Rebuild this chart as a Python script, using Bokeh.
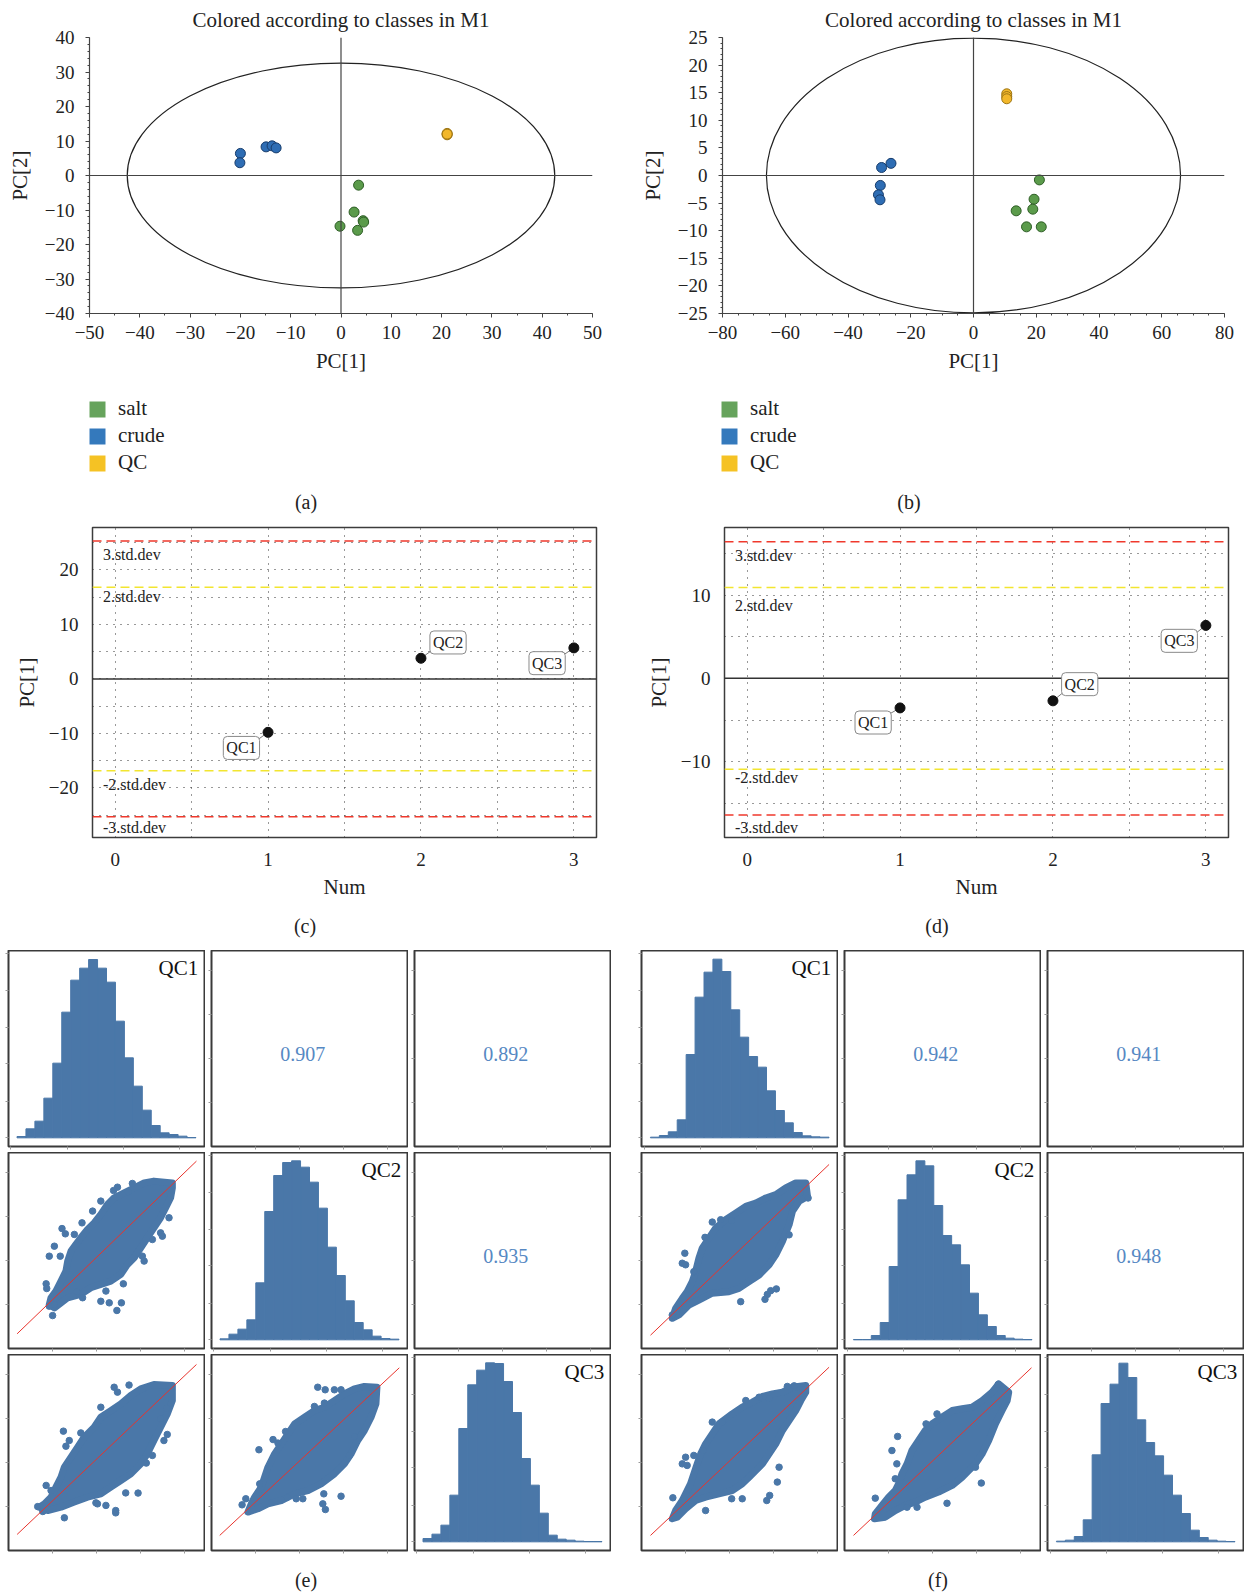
from bokeh.plotting import figure
from bokeh.layouts import column, row
from bokeh.models import (Range1d, Span, Label, Legend, LegendItem, FixedTicker,
                          SingleIntervalTicker, CustomJSTickFormatter, Div, Spacer)
from bokeh.embed import file_html
from bokeh.resources import INLINE

FONT = "Liberation Serif"
TXT = "#222222"

# ---------------- data: (a) / (b) PCA score plots ----------------
classes = ["salt", "crude", "QC"]
legend_colors = ["#66a35c", "#3479bc", "#f5c224"]
point_fill = ["#5b9b4b", "#2e6db4", "#f2b72a"]
point_line = ["#2e5e26", "#173c6b", "#9c7412"]

a_salt_x = [3.5, 2.6, 4.4, 4.5, -0.2, 3.3]
a_salt_y = [-2.8, -10.6, -13.1, -13.5, -14.7, -15.9]
a_crude_x = [-20.0, -20.1, -14.9, -13.7, -12.9]
a_crude_y = [6.4, 3.7, 8.3, 8.6, 8.0]
a_qc_x = [21.1, 21.1, 21.1]
a_qc_y = [12.2, 11.8, 12.0]
a_ellipse = [42.5, 32.6]

b_salt_x = [21.0, 19.3, 13.6, 18.9, 16.9, 21.6]
b_salt_y = [-0.8, -4.3, -6.4, -6.1, -9.3, -9.3]
b_crude_x = [-29.3, -26.3, -29.7, -30.3, -29.8]
b_crude_y = [1.45, 2.2, -1.8, -3.5, -4.4]
b_qc_x = [10.6, 10.6, 10.6]
b_qc_y = [14.8, 14.3, 13.9]
b_ellipse = [66.0, 24.9]

# ---------------- data: (c) / (d) QC control charts ----------------
qc_num = [1, 2, 3]
qc_names = ["QC1", "QC2", "QC3"]
c_scores = [-9.8, 3.8, 5.7]
c_sd2, c_sd3 = 16.85, 25.3
d_scores = [-3.55, -2.7, 6.35]
d_sd2, d_sd3 = 10.9, 16.4
c_label_x = [0.826, 2.177, 2.825]
c_label_y = [-12.66, 6.7, 2.9]
c_leader_x = [0.93, 2.069, 2.935]
c_leader_y = [-11.2, 5.2, 4.46]
d_label_x = [0.824, 2.175, 2.826]
d_label_y = [-5.3, -0.7, 4.5]
d_leader_x = [0.938, 2.06, 2.94]
d_leader_y = [-4.2, -1.8, 5.5]
std_texts = ["3.std.dev", "2.std.dev", "-2.std.dev", "-3.std.dev"]
c_std_y = [22.8, 15.2, -19.45, -27.2]
d_std_y = [14.8, 8.8, -11.95, -17.95]

# ---------------- data: (e) / (f) correlation matrices ----------------
e_hist_qc1 = [4, 27, 50, 119, 224, 377, 473, 509, 535, 509, 467, 350, 240, 155, 83, 37, 15, 10, 5, 1]
e_hist_qc2 = [3, 17, 32, 60, 171, 385, 493, 532, 537, 518, 473, 395, 278, 193, 117, 52, 30, 11, 4, 2]
e_hist_qc3 = [10, 23, 50, 140, 340, 471, 515, 537, 535, 481, 388, 250, 170, 86, 20, 8, 5, 2, 1, 1]
f_hist_qc1 = [2, 7, 18, 54, 250, 422, 497, 536, 499, 384, 302, 244, 212, 141, 82, 45, 16, 6, 3, 2]
f_hist_qc2 = [1, 1, 13, 52, 220, 420, 495, 537, 522, 403, 313, 285, 225, 140, 75, 40, 13, 5, 2, 1]
f_hist_qc3 = [2, 5, 16, 66, 261, 415, 473, 536, 493, 366, 298, 258, 200, 140, 85, 35, 13, 5, 2, 1]
bin_edges = list(range(21))

e_corr = {"12": "0.907", "13": "0.892", "23": "0.935"}
f_corr = {"12": "0.942", "13": "0.941", "23": "0.948"}

e21_hull_x = [83.6, 74.2, 69.2, 64.1, 59.0, 53.9, 50.5, 47.1, 43.7, 40.3, 36.9, 34.4, 31.9, 30.2, 29.3, 26.8, 24.2, 21.7, 20.8, 23.4, 30.2, 36.9, 42.0, 47.1, 52.2, 57.3, 60.7, 64.1, 67.5, 70.8, 74.2, 77.6, 80.2, 82.7, 83.6]
e21_hull_y = [84.5, 85.4, 84.5, 82.0, 79.4, 76.9, 73.5, 68.4, 64.1, 60.7, 56.5, 53.1, 49.7, 44.6, 39.5, 34.4, 29.3, 25.9, 22.4, 20.7, 25.9, 27.6, 31.0, 32.7, 34.4, 37.8, 42.9, 46.3, 51.4, 56.5, 61.6, 66.7, 71.8, 76.9, 82.0]
e21_out_x = [63.2, 55.6, 53.6, 61.0, 47.1, 42.9, 37.5, 27.3, 29.0, 33.6, 23.4, 20.8, 26.4, 19.2, 19.5, 22.5, 20.8, 47.1, 51.4, 55.3, 57.6, 49.7, 58.6, 68.3, 69.2, 73.4, 77.6, 78.5, 81.9, 37.8, 34.9, 23.4]
e21_out_y = [84.2, 82.3, 80.6, 79.8, 75.2, 70.1, 64.1, 61.2, 58.5, 58.2, 52.2, 47.1, 47.1, 33.0, 30.6, 16.8, 21.6, 24.1, 23.3, 19.4, 23.3, 29.3, 33.0, 47.1, 44.6, 55.6, 59.0, 57.3, 66.7, 25.9, 28.9, 22.4]
e21_diag = ([4.4, 95.9], [7.5, 95.6])

e31_hull_x = [83.6, 74.2, 67.5, 62.4, 57.3, 52.2, 47.1, 43.7, 38.6, 35.3, 31.9, 28.5, 26.8, 24.2, 21.7, 18.3, 15.8, 20.0, 26.8, 33.6, 40.3, 47.1, 52.2, 57.3, 62.4, 67.5, 70.8, 74.2, 77.6, 81.0, 83.6]
e31_hull_y = [84.2, 84.7, 82.5, 79.1, 74.8, 71.4, 68.0, 62.9, 57.8, 52.7, 47.6, 42.5, 37.4, 32.3, 27.2, 23.8, 22.1, 20.4, 22.1, 24.7, 27.2, 28.9, 32.3, 35.7, 39.1, 44.2, 49.3, 56.1, 62.9, 69.7, 76.5]
e31_out_x = [53.9, 61.5, 55.6, 47.1, 28.0, 36.9, 31.0, 29.3, 19.2, 21.7, 14.9, 17.5, 28.5, 44.6, 45.4, 49.7, 54.7, 54.7, 59.8, 66.1, 70.3, 73.4, 79.3, 81.0, 77.6, 80.7]
e31_out_y = [83.3, 84.4, 80.8, 73.1, 60.9, 60.0, 56.1, 53.2, 33.2, 30.6, 22.4, 19.9, 16.7, 24.3, 23.8, 23.0, 20.4, 19.2, 29.4, 29.3, 44.6, 48.5, 56.1, 59.2, 67.2, 72.6]
e31_diag = ([4.4, 95.9], [8.2, 94.9])

e32_hull_x = [84.4, 78.0, 72.9, 67.8, 62.7, 57.6, 52.5, 47.5, 42.4, 39.0, 35.6, 32.2, 28.8, 27.1, 25.4, 22.0, 20.3, 18.6, 23.7, 28.8, 35.6, 42.4, 49.2, 55.9, 62.7, 67.8, 71.2, 74.6, 78.0, 81.4, 83.9]
e32_hull_y = [83.3, 83.7, 82.5, 79.9, 76.5, 73.1, 71.4, 68.0, 64.6, 59.5, 54.4, 49.3, 42.5, 37.4, 32.3, 27.2, 23.8, 19.6, 21.3, 23.8, 25.5, 28.9, 30.6, 34.0, 39.1, 44.2, 49.3, 56.1, 61.2, 68.0, 74.8]
e32_out_x = [54.2, 58.0, 62.7, 66.1, 52.5, 57.6, 37.8, 31.4, 33.9, 24.2, 24.6, 15.6, 17.5, 38.6, 43.2, 46.6, 57.3, 56.8, 58.1, 66.1, 70.3, 72.9]
e32_out_y = [83.3, 82.0, 82.0, 82.0, 73.5, 75.2, 60.7, 56.6, 54.8, 51.4, 34.0, 23.3, 26.4, 27.2, 26.4, 26.4, 28.9, 23.8, 20.9, 27.7, 48.5, 58.2]
e32_diag = ([4.2, 95.8], [7.7, 93.2])

f21_hull_x = [83.8, 78.7, 73.6, 68.5, 63.4, 58.3, 53.2, 48.0, 42.9, 37.8, 34.4, 31.0, 29.3, 27.6, 25.9, 23.3, 20.8, 17.4, 15.7, 19.1, 24.2, 29.3, 36.1, 44.6, 49.7, 54.9, 60.0, 65.1, 68.5, 71.9, 75.3, 77.0, 80.4, 84.7]
f21_hull_y = [84.5, 84.5, 81.9, 78.5, 76.8, 74.2, 72.5, 69.1, 65.7, 61.4, 56.3, 51.2, 46.1, 39.2, 34.1, 29.0, 25.6, 20.5, 15.4, 17.1, 22.2, 24.7, 28.2, 29.0, 30.7, 34.1, 37.5, 42.7, 47.8, 54.6, 63.1, 70.0, 75.1, 77.6]
f21_out_x = [36.1, 40.4, 46.0, 32.4, 22.1, 20.8, 22.5, 26.7, 50.6, 64.2, 65.9, 68.8, 63.0, 75.3, 85.0, 15.7, 18.2]
f21_out_y = [64.5, 65.7, 65.2, 56.7, 48.6, 43.5, 42.7, 39.2, 23.9, 27.6, 29.5, 30.4, 25.1, 58.0, 76.8, 17.1, 18.8]
f21_diag = ([4.6, 95.7], [6.8, 93.9])

f31_hull_x = [83.8, 77.0, 71.9, 66.8, 61.7, 56.6, 51.4, 46.3, 42.9, 39.5, 36.1, 32.7, 30.2, 28.4, 26.7, 25.0, 23.3, 20.8, 17.4, 15.7, 18.2, 22.5, 27.6, 32.7, 39.5, 46.3, 51.4, 54.9, 58.3, 61.7, 65.1, 68.5, 71.9, 75.3, 78.7, 81.3, 83.8]
f31_hull_y = [84.2, 83.3, 80.8, 79.9, 78.6, 75.7, 73.1, 69.7, 67.2, 64.6, 59.5, 54.4, 49.3, 44.2, 39.1, 34.0, 30.6, 25.5, 20.4, 16.2, 17.0, 21.3, 25.5, 27.2, 28.9, 30.6, 34.0, 37.4, 40.8, 44.2, 49.3, 54.4, 61.2, 66.3, 71.4, 76.5, 80.8]
f31_out_x = [74.4, 77.9, 60.0, 65.1, 53.2, 41.2, 36.1, 31.5, 26.7, 22.5, 20.8, 23.3, 16.0, 32.7, 46.0, 51.4, 63.9, 65.4, 69.3, 70.2]
f31_out_y = [83.7, 84.0, 78.2, 77.4, 76.5, 65.5, 65.5, 51.0, 48.5, 47.6, 44.2, 43.4, 26.9, 20.4, 26.4, 26.4, 25.5, 28.1, 34.9, 42.5]
f31_diag = ([4.6, 95.7], [7.7, 93.5])

f32_hull_x = [83.8, 78.7, 75.3, 70.2, 65.1, 60.0, 54.9, 49.7, 44.6, 41.2, 37.8, 34.4, 31.9, 29.3, 27.6, 25.9, 22.5, 19.1, 15.7, 15.3, 20.8, 25.9, 31.0, 36.1, 41.2, 48.0, 54.9, 60.0, 63.4, 66.8, 70.2, 73.6, 77.0, 80.4, 83.0]
f32_hull_y = [80.8, 85.0, 80.8, 76.5, 73.1, 72.3, 71.4, 68.0, 64.6, 61.2, 56.1, 51.0, 44.2, 39.1, 34.0, 30.6, 27.2, 23.0, 18.7, 16.2, 17.0, 20.4, 23.0, 24.7, 27.2, 29.8, 33.2, 37.4, 40.8, 44.2, 49.3, 56.1, 64.6, 71.4, 76.5]
f32_out_x = [41.6, 47.2, 27.1, 24.2, 26.7, 25.9, 15.7, 31.9, 37.0, 52.3, 69.8, 66.8, 78.4]
f32_out_y = [64.6, 69.7, 58.2, 51.0, 44.2, 36.6, 26.7, 22.1, 22.1, 24.1, 34.4, 42.5, 84.7]
f32_diag = ([4.6, 95.4], [7.7, 93.2])

HIST_BLUE = "#4a77a8"
CORR_BLUE = "#5688c3"

MINUS_FMT = "return (tick < 0 ? '\u2212' : '') + Math.abs(tick).toString();"


def style_axis(ax, size="19px"):
    ax.major_label_text_font = FONT
    ax.major_label_text_font_size = size
    ax.major_label_text_color = TXT
    ax.axis_label_text_font = FONT
    ax.axis_label_text_font_size = "21px"
    ax.axis_label_text_font_style = "normal"
    ax.axis_label_text_color = TXT
    ax.formatter = CustomJSTickFormatter(code=MINUS_FMT)


def pca_fig(width, left, right, xr, yr, xint, xminor, yint, yminor, xs, ys, ell):
    p = figure(width=width, height=380, x_range=Range1d(*xr), y_range=Range1d(*yr),
               min_border_left=left, min_border_right=right, min_border_top=37,
               min_border_bottom=67, toolbar_location=None, output_backend="svg",
               title="Colored according to classes in M1")
    p.outline_line_color = None
    p.grid.visible = False
    p.title.align = "center"
    p.title.text_font = FONT
    p.title.text_font_size = "21px"
    p.title.text_font_style = "normal"
    p.title.text_color = TXT
    p.title.standoff = 11
    p.xaxis.ticker = SingleIntervalTicker(interval=xint, num_minor_ticks=xminor)
    p.yaxis.ticker = SingleIntervalTicker(interval=yint, num_minor_ticks=yminor)
    p.xaxis.axis_label = "PC[1]"
    p.yaxis.axis_label = "PC[2]"
    for ax in (p.xaxis[0], p.yaxis[0]):
        style_axis(ax)
        ax.axis_line_color = "#444444"
        ax.axis_line_width = 1.2
        ax.major_tick_line_color = "#444444"
        ax.minor_tick_line_color = "#444444"
        ax.major_tick_out = 4
        ax.major_tick_in = 0
        ax.minor_tick_out = 2
        ax.minor_tick_in = 0
    p.xaxis.major_label_standoff = 8
    p.yaxis.major_label_standoff = 11
    p.xaxis.axis_label_standoff = 7
    p.yaxis.axis_label_standoff = 10
    p.add_layout(Span(location=0, dimension="height", line_color="#444444", line_width=1.2))
    p.add_layout(Span(location=0, dimension="width", line_color="#444444", line_width=1.2))
    p.ellipse(x=[0], y=[0], width=[2 * ell[0]], height=[2 * ell[1]],
              fill_color=None, line_color="#222222", line_width=1.2)
    for i in range(3):
        p.scatter(xs[i], ys[i], size=10, fill_color=point_fill[i],
                  line_color=point_line[i], line_width=1)
    return p


def legend_fig(width, left):
    p = figure(width=width, height=100, x_range=Range1d(0, 1), y_range=Range1d(0, 1),
               min_border_left=left, min_border_right=0, min_border_top=16,
               min_border_bottom=0, toolbar_location=None, output_backend="svg",
               x_axis_type=None, y_axis_type=None)
    p.outline_line_color = None
    items = []
    for cls, col in zip(classes, legend_colors):
        # proxy renderer for the legend swatch, kept outside the visible range
        r = p.quad(left=[5], right=[6], top=[6], bottom=[5], fill_color=col, line_color=None)
        items.append(LegendItem(label=cls, renderers=[r]))
    leg = Legend(items=items, location="top_left", orientation="vertical", margin=0,
                 padding=0, spacing=2, glyph_width=20, glyph_height=20, label_height=24,
                 label_standoff=11, label_text_font=FONT, label_text_font_size="21px",
                 label_text_color=TXT, border_line_color=None, background_fill_alpha=0)
    p.add_layout(leg)
    return p


def qc_fig(width, left, right, yr, yticks, gridy, scores, sd2, sd3, lab_x, lab_y,
           lead_x, lead_y, std_y):
    p = figure(width=width, height=390, x_range=Range1d(-0.148, 3.148), y_range=Range1d(*yr),
               min_border_left=left, min_border_right=right, min_border_top=7,
               min_border_bottom=73, toolbar_location=None, output_backend="svg")
    p.outline_line_color = "#3c3c3c"
    p.outline_line_width = 1.5
    p.xgrid.ticker = FixedTicker(ticks=[0, 0.5, 1, 1.5, 2, 2.5, 3])
    p.ygrid.ticker = FixedTicker(ticks=gridy)
    p.grid.grid_line_color = "#333333"
    p.grid.grid_line_dash = "1 6"
    p.grid.grid_line_width = 1
    p.xaxis.ticker = FixedTicker(ticks=[0, 1, 2, 3])
    p.yaxis.ticker = FixedTicker(ticks=yticks)
    p.xaxis.axis_label = "Num"
    p.yaxis.axis_label = "PC[1]"
    for ax in (p.xaxis[0], p.yaxis[0]):
        style_axis(ax)
        ax.axis_line_color = None
        ax.major_tick_line_color = None
        ax.minor_tick_line_color = None
    p.xaxis.major_label_standoff = 9
    p.yaxis.major_label_standoff = 8
    p.xaxis.axis_label_standoff = 6
    p.yaxis.axis_label_standoff = 7
    for loc, col in ((sd3, "#f0392c"), (-sd3, "#f0392c"), (sd2, "#f2e530"), (-sd2, "#f2e530")):
        p.add_layout(Span(location=loc, dimension="width", line_color=col,
                          line_width=1.5, line_dash="9 5"))
    p.add_layout(Span(location=0, dimension="width", line_color="#333333", line_width=1.5))
    for t, y in zip(std_texts, std_y):
        p.add_layout(Label(x=-0.08, y=y, text=t, text_font=FONT, text_font_size="16px",
                           text_color=TXT, text_baseline="middle", text_align="left"))
    p.segment(x0=qc_num, y0=scores, x1=lead_x, y1=lead_y, line_color="#7a7a7a", line_width=1)
    p.scatter(qc_num, scores, size=10, fill_color="#111111", line_color="#111111")
    for name, x, y in zip(qc_names, lab_x, lab_y):
        p.add_layout(Label(x=x, y=y, text=name, text_font=FONT, text_font_size="16px",
                           text_color=TXT, text_align="center", text_baseline="middle",
                           background_fill_color="white", border_line_color="#8a8a8a",
                           border_line_width=1, border_radius=4, padding=3))
    return p


BLANK_FMT = "return '';"


def cell_fig(xr, yr, xt, yt):
    p = figure(width=203, height=202, x_range=Range1d(*xr), y_range=Range1d(*yr),
               min_border_left=6, min_border_right=1, min_border_top=0,
               min_border_bottom=6, toolbar_location=None, output_backend="svg")
    p.outline_line_color = "#3a3a3a"
    p.outline_line_width = 2
    p.grid.visible = False
    p.xaxis.ticker = FixedTicker(ticks=xt)
    p.yaxis.ticker = FixedTicker(ticks=yt)
    for ax in (p.xaxis[0], p.yaxis[0]):
        ax.axis_line_color = None
        ax.major_tick_line_color = "#9a9a9a"
        ax.major_tick_out = 3
        ax.major_tick_in = 0
        ax.minor_tick_line_color = None
        ax.major_label_standoff = 0
        ax.major_label_text_font_size = "1px"
        ax.formatter = CustomJSTickFormatter(code=BLANK_FMT)
    return p


HIST_YR = (-26, 562)


def hist_cell(counts, name, xr):
    p = cell_fig(xr, HIST_YR, [-0.7, 5.6, 11.9, 18.2], [0, 110, 222, 332, 442, 554])
    p.quad(left=bin_edges[:-1], right=bin_edges[1:], top=counts, bottom=0,
           fill_color=HIST_BLUE, line_color=HIST_BLUE, line_width=1)
    p.add_layout(Label(x=xr[1] - 0.7, y=511, text=name, text_font=FONT, text_font_size="21px",
                       text_color="#111111", text_align="right", text_baseline="middle"))
    return p


SC_TICKS = [22.5, 45, 67.5, 90]


def corr_cell(txt):
    p = cell_fig((0, 100), (0, 100), SC_TICKS, SC_TICKS)
    p.add_layout(Label(x=46.5, y=47, text=txt, text_font=FONT, text_font_size="20px",
                       text_color=CORR_BLUE, text_align="center", text_baseline="middle"))
    return p


def scatter_cell(hx, hy, ox, oy, diag):
    p = cell_fig((0, 100), (0, 100), SC_TICKS, SC_TICKS)
    p.patch(hx, hy, fill_color=HIST_BLUE, line_color=HIST_BLUE, line_width=7,
            line_join="round")
    p.scatter(ox, oy, size=6.5, fill_color=HIST_BLUE, line_color=HIST_BLUE)
    p.line(diag[0], diag[1], line_color="#e8332c", line_width=1)
    return p


# ---------------- build ----------------
fa = pca_fig(615, 89, 23, (-50, 50), (-40, 40), 10, 2, 10, 5,
             [a_salt_x, a_crude_x, a_qc_x], [a_salt_y, a_crude_y, a_qc_y], a_ellipse)
fb = pca_fig(622, 107, 13, (-80, 80), (-25, 25), 20, 4, 5, 5,
             [b_salt_x, b_crude_x, b_qc_x], [b_salt_y, b_crude_y, b_qc_y], b_ellipse)
la = legend_fig(615, 87)
lb = legend_fig(622, 104)

fc = qc_fig(615, 92, 19, (-29.1, 27.8), [-20, -10, 0, 10, 20], list(range(-25, 26, 5)),
            c_scores, c_sd2, c_sd3, c_label_x, c_label_y, c_leader_x, c_leader_y, c_std_y)
fd = qc_fig(625, 109, 12, (-19.1, 18.1), [-10, 0, 10], list(range(-15, 16, 5)),
            d_scores, d_sd2, d_sd3, d_label_x, d_label_y, d_leader_x, d_leader_y, d_std_y)


def caption(txt, h, lh):
    return Div(text=txt, width=40, height=h, margin=(0, 0, 0, 0),
               styles={"font-family": FONT, "font-size": "20px", "color": TXT,
                       "text-align": "center", "line-height": f"{lh}px"})


cap_ab = row(Spacer(width=286, height=40), caption("(a)", 40, 44),
             Spacer(width=563, height=40), caption("(b)", 40, 44))
cap_cd = row(Spacer(width=285, height=40), caption("(c)", 40, 32),
             Spacer(width=592, height=40), caption("(d)", 40, 32))
cap_ef = row(Spacer(width=286, height=38), caption("(e)", 38, 48),
             Spacer(width=592, height=38), caption("(f)", 38, 48))

E_XR = (-0.95, 20.95)
F_XR = (-1.0, 20.95)

grid_rows = [
    row(Spacer(width=2, height=202),
        hist_cell(e_hist_qc1, "QC1", E_XR), corr_cell(e_corr["12"]), corr_cell(e_corr["13"]),
        Spacer(width=24, height=202),
        hist_cell(f_hist_qc1, "QC1", F_XR), corr_cell(f_corr["12"]), corr_cell(f_corr["13"])),
    row(Spacer(width=2, height=202),
        scatter_cell(e21_hull_x, e21_hull_y, e21_out_x, e21_out_y, e21_diag),
        hist_cell(e_hist_qc2, "QC2", E_XR), corr_cell(e_corr["23"]),
        Spacer(width=24, height=202),
        scatter_cell(f21_hull_x, f21_hull_y, f21_out_x, f21_out_y, f21_diag),
        hist_cell(f_hist_qc2, "QC2", F_XR), corr_cell(f_corr["23"])),
    row(Spacer(width=2, height=202),
        scatter_cell(e31_hull_x, e31_hull_y, e31_out_x, e31_out_y, e31_diag),
        scatter_cell(e32_hull_x, e32_hull_y, e32_out_x, e32_out_y, e32_diag),
        hist_cell(e_hist_qc3, "QC3", E_XR),
        Spacer(width=24, height=202),
        scatter_cell(f31_hull_x, f31_hull_y, f31_out_x, f31_out_y, f31_diag),
        scatter_cell(f32_hull_x, f32_hull_y, f32_out_x, f32_out_y, f32_diag),
        hist_cell(f_hist_qc3, "QC3", F_XR)),
]

layout = column(row(fa, fb), row(la, lb), cap_ab, row(fc, fd), cap_cd,
                *grid_rows, cap_ef)

open("out.html", "w").write(file_html(layout, INLINE))
